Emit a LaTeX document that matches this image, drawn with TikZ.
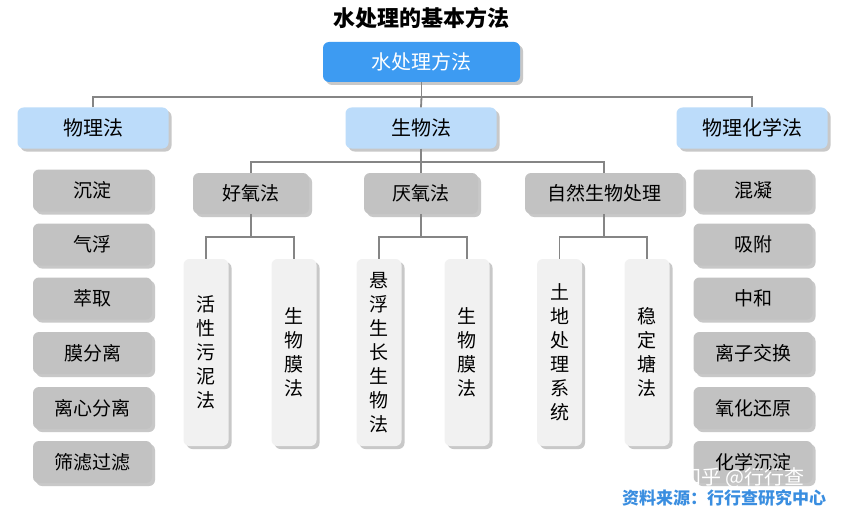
\documentclass[tikz,border=0pt]{standalone}
\usepackage{fontspec}
\setmainfont{Noto Sans CJK SC}
\usepackage{pdfrender}
\usetikzlibrary{shadows}
\definecolor{topblue}{HTML}{3D9BF2}
\definecolor{lightblue}{HTML}{BCDCFA}
\definecolor{boxgrey}{HTML}{C2C2C2}
\definecolor{tallgrey}{HTML}{F1F1F1}
\definecolor{linegrey}{HTML}{858585}
\definecolor{srcblue}{HTML}{3A8EE0}
\begin{document}
\begin{tikzpicture}[x=1pt,y=-1pt,
  shd/.style={drop shadow={shadow xshift=3pt,shadow yshift=-3pt,opacity=0.3,fill=black!70}},
  base/.style={shd,rounded corners=6pt,inner sep=0pt,align=center},
  topbox/.style={base,fill=topblue,minimum width=197pt,minimum height=40pt,text=white,font=\fontsize{20}{24}\selectfont},
  lvltwo/.style={base,fill=lightblue,minimum width=151pt,minimum height=41pt,font=\fontsize{20}{24}\selectfont},
  lvlthree/.style={base,fill=boxgrey,minimum height=41pt,font=\fontsize{19}{24}\selectfont},
  sidebox/.style={base,fill=boxgrey,minimum width=119pt,minimum height=42pt,font=\fontsize{19}{24}\selectfont},
  tallbox/.style={base,fill=tallgrey,minimum width=45pt,minimum height=187pt,font=\fontsize{19}{24}\selectfont},
  conn/.style={draw=linegrey,line width=1.8pt},
  wmark/.style={font=\fontsize{20}{24}\selectfont,inner sep=0pt}
]
\useasboundingbox[fill=white] (0,0) rectangle (842,516);

\node[font=\fontsize{22}{26}\selectfont\bfseries] (title) at (421,18) {水处理的基本方法};

\node[topbox] (top) at (421.5,62) {水处理方法};

\node[lvltwo] (phy) at (93,128) {物理法};
\node[lvltwo] (bio) at (421,128) {生物法};
\node[lvltwo] (chem) at (752,128) {物理化学法};

\node[lvlthree,minimum width=116pt] (aer) at (251,193.5) {好氧法};
\node[lvlthree,minimum width=114pt] (ana) at (421,193.5) {厌氧法};
\node[lvlthree,minimum width=158pt] (nat) at (604,193.5) {自然生物处理};

% physical methods
\node[sidebox] (p1) at (92.5,190.5) {沉淀};
\node[sidebox] (p2) at (92.5,244.5) {气浮};
\node[sidebox] (p3) at (92.5,298.5) {萃取};
\node[sidebox] (p4) at (92.5,353) {膜分离};
\node[sidebox] (p5) at (92.5,408) {离心分离};
\node[sidebox] (p6) at (92.5,462) {筛滤过滤};

% physico-chemical methods
\node[sidebox] (c1) at (753,190.5) {混凝};
\node[sidebox] (c2) at (753,244.5) {吸附};
\node[sidebox] (c3) at (753,298.5) {中和};
\node[sidebox] (c4) at (753,353) {离子交换};
\node[sidebox] (c5) at (753,408) {氧化还原};
\node[sidebox] (c6) at (753,462) {化学沉淀};

% tall leaves
\node[tallbox] (a1) at (206,352.5) {活\\性\\污\\泥\\法};
\node[tallbox] (a2) at (294,352.5) {生\\物\\膜\\法};
\node[tallbox] (n1) at (379,352.5) {悬\\浮\\生\\长\\生\\物\\法};
\node[tallbox] (n2) at (467,352.5) {生\\物\\膜\\法};
\node[tallbox] (s1) at (559.5,352.5) {土\\地\\处\\理\\系\\统};
\node[tallbox] (s2) at (647,352.5) {稳\\定\\塘\\法};

% junctions
\coordinate (j0) at (421.5,97);
\coordinate (j1) at (421,162);
\coordinate (ja) at (251,237);
\coordinate (jn) at (421,237);
\coordinate (js) at (604,237);

\draw[conn] (top.south) -- (j0);
\draw[conn] (phy.north) |- (j0) -| (chem.north);
\draw[conn] (j0) -- (bio.north);
\draw[conn] (bio.south) -- (ana.north);
\draw[conn] (aer.north) |- (j1) -| (nat.north);
\draw[conn] (aer.south) -- (ja);
\draw[conn] (a1.north) |- (ja) -| (a2.north);
\draw[conn] (ana.south) -- (jn);
\draw[conn] (n1.north) |- (jn) -| (n2.north);
\draw[conn] (nat.south) -- (js);
\draw[conn] (s1.north) |- (js) -| (s2.north);

% watermark: white text with a grey outline
\node[wmark,text=white] (wm) at (743,478) {\textpdfrender{TextRenderingMode=FillStroke,LineWidth=0.7,StrokeColor=black!45,FillColor=white}{知乎 @行行查}};
\node[font=\fontsize{17}{20}\selectfont\bfseries,text=srcblue] (src) at (724,498) {资料来源：行行查研究中心};
\end{tikzpicture}
\end{document}
